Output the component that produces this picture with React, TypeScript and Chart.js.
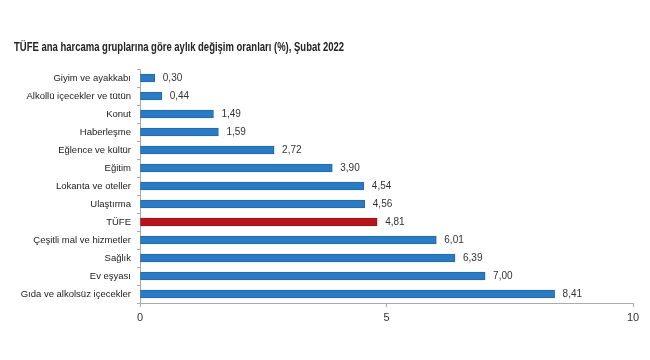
import React, { useEffect, useRef } from "react";
import { Chart, registerables } from "chart.js";

Chart.register(...registerables);

const TITLE = "TÜFE ana harcama gruplarına göre aylık değişim oranları (%), Şubat 2022";
const categories = [
  "Giyim ve ayakkabı",
  "Alkollü içecekler ve tütün",
  "Konut",
  "Haberleşme",
  "Eğlence ve kültür",
  "Eğitim",
  "Lokanta ve oteller",
  "Ulaştırma",
  "TÜFE",
  "Çeşitli mal ve hizmetler",
  "Sağlık",
  "Ev eşyası",
  "Gıda ve alkolsüz içecekler",
];
const values = [0.3, 0.44, 1.49, 1.59, 2.72, 3.9, 4.54, 4.56, 4.81, 6.01, 6.39, 7.0, 8.41];
const xTicks = [0, 5, 10];

const BLUE = "#2b7bc3";
const BLUE_BORDER = "#1f68ab";
const RED = "#b8141c";
const RED_BORDER = "#9a1016";
const FONT = "'Liberation Sans', Arial, sans-serif";

export default function App() {
  const ref = useRef<HTMLCanvasElement | null>(null);
  useEffect(() => {
    if (!ref.current) return;
    const titlePlugin = {
      id: "customTitle",
      afterDraw(chart: any) {
        const ctx = chart.ctx;
        ctx.save();
        ctx.font = "bold 13px " + FONT;
        ctx.fillStyle = "#222";
        ctx.textBaseline = "middle";
        ctx.textAlign = "left";
        const sx = 0.73;
        ctx.scale(sx, 1);
        ctx.fillText(TITLE, 14 / sx, 47);
        ctx.restore();
      },
    };
    const labelPlugin = {
      id: "valueLabels",
      afterDatasetsDraw(chart: any) {
        const ctx = chart.ctx;
        const meta = chart.getDatasetMeta(0);
        ctx.save();
        ctx.font = "10px " + FONT;
        ctx.fillStyle = "#333";
        ctx.textBaseline = "middle";
        ctx.textAlign = "left";
        meta.data.forEach((bar: any, i: number) => {
          const txt = values[i].toFixed(2).replace(".", ",");
          ctx.fillText(txt, bar.x + 8, bar.y);
        });
        ctx.restore();
      },
    };
    const chart = new Chart(ref.current, {
      type: "bar",
      data: {
        labels: categories,
        datasets: [
          {
            data: values,
            backgroundColor: categories.map((c) => (c === "TÜFE" ? RED : BLUE)),
            borderColor: categories.map((c) => (c === "TÜFE" ? RED_BORDER : BLUE_BORDER)),
            borderWidth: 1,
            borderSkipped: false,
            barThickness: 8,
          },
        ],
      },
      options: {
        indexAxis: "y",
        animation: false,
        responsive: false,
        maintainAspectRatio: false,
        layout: { padding: { top: 69, right: 17, bottom: 27, left: 0 } },
        plugins: {
          legend: { display: false },
          tooltip: { enabled: false },
          title: { display: false },
        },
        scales: {
          x: {
            min: 0,
            max: 10,
            afterBuildTicks(scale: any) {
              scale.ticks = xTicks.map((v) => ({ value: v }));
            },
            afterFit(scale: any) {
              scale.height = 30;
            },
            grid: {
              drawOnChartArea: false,
              drawTicks: true,
              tickLength: 4,
              color: "#aaa",
            },
            border: { color: "#aaa", width: 1 },
            ticks: {
              color: "#333",
              font: { size: 11, family: FONT },
              padding: 4,
            },
          },
          y: {
            afterFit(scale: any) {
              scale.width = 140;
            },
            grid: {
              drawOnChartArea: false,
              drawTicks: true,
              tickLength: 3,
              color: "#aaa",
              offset: true,
            },
            border: { color: "#aaa", width: 1 },
            ticks: {
              color: "#222",
              font: { size: 9.5, family: FONT },
              padding: 6,
              autoSkip: false,
            },
          },
        },
      },
      plugins: [titlePlugin, labelPlugin],
    });
    return () => chart.destroy();
  }, []);
  return (
    <div style={{ position: "absolute", left: 0, top: 0, width: 650, height: 360, background: "#fff" }}>
      <canvas ref={ref} width={650} height={360} style={{ width: 650, height: 360 }} />
    </div>
  );
}
